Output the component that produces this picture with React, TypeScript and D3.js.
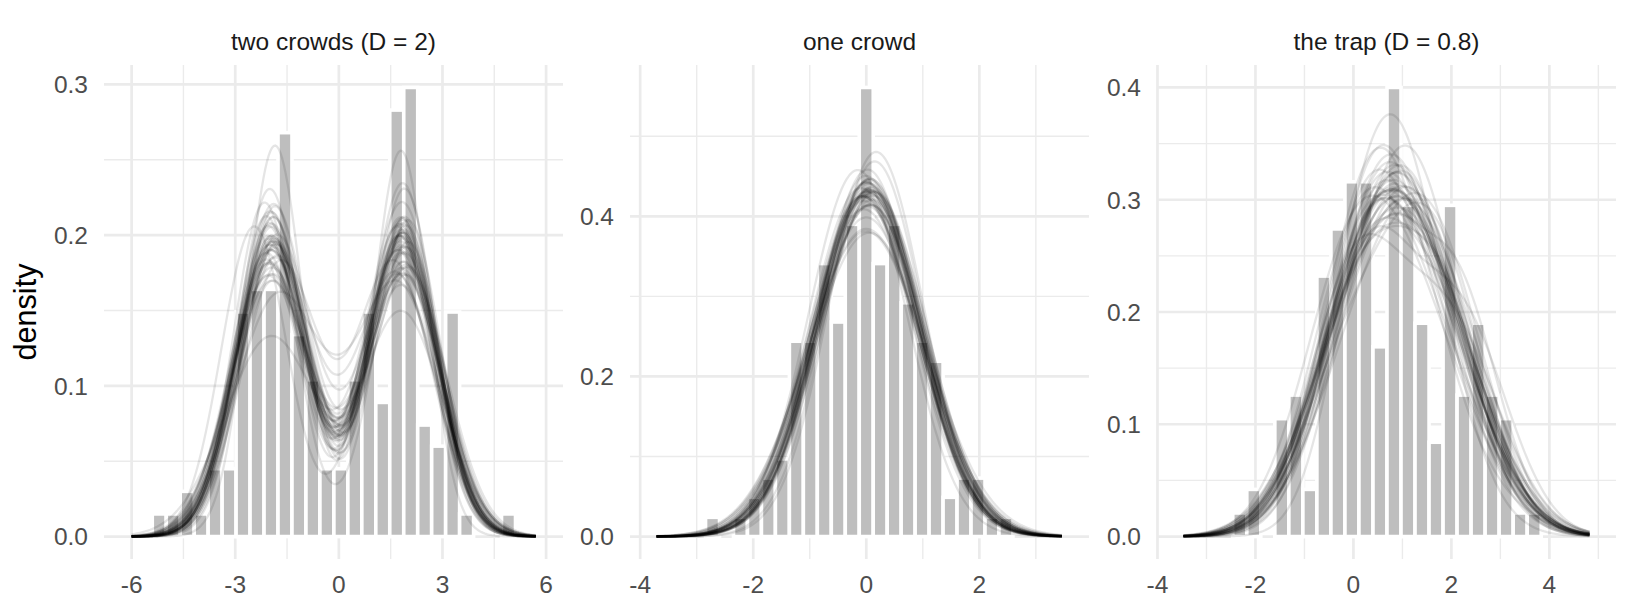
import { useEffect, useRef } from 'react';
import * as d3 from 'd3';

const WIDTH = 1632;
const HEIGHT = 614;

// facet titles
const titles = ['two crowds (D = 2)', 'one crowd', 'the trap (D = 0.8)'];

// histogram: centre of first bin, bin width, density of each bin
const binStart = [-5.2, -2.72, -2.32];
const binWidth = [0.4045, 0.2472, 0.2862];

const barsTwo = [
  0.015, 0.015, 0.030, 0.015, 0.045, 0.045, 0.149, 0.164, 0.164, 0.268, 0.134, 0.104, 0.045,
  0.045, 0.104, 0.149, 0.089, 0.283, 0.298, 0.074, 0.060, 0.149, 0.015, 0, 0, 0.015
];
const barsOne = [
  0.024, 0, 0.024, 0.049, 0.073, 0.097, 0.244, 0.244, 0.341, 0.268, 0.390, 0.561, 0.341,
  0.390, 0.292, 0.244, 0.219, 0.049, 0.073, 0.073, 0.024, 0.024
];
const barsTrap = [
  0.021, 0.042, 0, 0.105, 0.126, 0.042, 0.232, 0.274, 0.316, 0.316, 0.169, 0.400, 0.295,
  0.190, 0.084, 0.295, 0.126, 0.190, 0.126, 0.105, 0.021, 0.021
];

// posterior draws of the two-component mixture: [weight, mu1, sd1, mu2, sd2]
const drawsTwo = [
  [0.50, -1.95, 1.00, 1.85, 1.00], [0.48, -2.00, 1.05, 1.80, 0.98], [0.52, -1.90, 0.98, 1.90, 1.05],
  [0.50, -2.05, 1.10, 1.85, 0.95], [0.47, -1.85, 0.95, 1.75, 1.02], [0.53, -1.95, 1.02, 1.95, 1.08],
  [0.49, -2.10, 0.92, 1.80, 1.00], [0.51, -1.80, 1.05, 1.90, 0.97], [0.50, -2.00, 0.96, 1.70, 1.05],
  [0.46, -1.90, 1.08, 1.85, 0.92], [0.54, -2.00, 1.00, 1.80, 1.10], [0.50, -1.95, 1.12, 1.95, 1.12],
  [0.48, -1.85, 1.00, 1.85, 1.03], [0.52, -2.05, 1.04, 1.75, 0.96], [0.50, -1.90, 0.94, 1.90, 0.94],
  [0.49, -2.00, 1.08, 1.80, 1.06], [0.51, -1.95, 0.99, 2.00, 1.00], [0.47, -2.10, 1.02, 1.85, 1.00],
  [0.53, -1.80, 1.06, 1.70, 1.08], [0.50, -2.00, 1.15, 1.85, 1.15], [0.52, -1.85, 0.80, 1.80, 0.95],
  [0.50, -1.95, 1.05, 1.80, 0.78], [0.45, -1.95, 1.35, 1.85, 1.00], [0.55, -1.90, 1.00, 1.80, 1.20],
  [0.50, -1.70, 1.10, 1.60, 1.10], [0.50, -2.15, 0.90, 2.00, 0.95], [0.49, -2.45, 0.95, 1.80, 1.05],
  [0.51, -1.95, 1.20, 1.90, 1.02], [0.48, -2.00, 0.98, 1.95, 1.15], [0.50, -1.85, 1.03, 1.75, 1.00],
  [0.52, -2.00, 0.90, 1.85, 1.05], [0.48, -1.90, 1.10, 1.90, 0.90], [0.50, -2.05, 0.97, 1.80, 1.12],
  [0.51, -1.95, 1.07, 1.85, 0.99], [0.49, -1.80, 1.00, 1.95, 1.06], [0.50, -2.00, 1.03, 1.70, 0.97],
  [0.53, -1.90, 1.08, 1.90, 1.00], [0.47, -2.05, 0.95, 1.80, 1.08], [0.50, -1.95, 0.93, 1.85, 1.14],
  [0.52, -1.85, 1.12, 1.95, 0.93], [0.50, -1.75, 1.25, 1.70, 1.20], [0.49, -2.00, 1.01, 1.85, 1.01],
  [0.51, -1.90, 1.04, 1.80, 1.04], [0.50, -2.10, 1.06, 1.90, 0.98], [0.48, -1.95, 0.97, 1.75, 1.09],
  [0.52, -2.00, 1.09, 2.00, 1.07], [0.50, -1.85, 0.91, 1.85, 0.96], [0.50, -1.95, 1.00, 1.80, 1.00],
  [0.51, -1.80, 1.10, 1.65, 1.12], [0.49, -2.05, 1.13, 1.90, 1.08]
];
const drawsOne = [
  [0.50, -0.10, 0.92, 0.10, 0.92], [0.50, -0.05, 0.88, 0.15, 0.90], [0.60, 0.00, 0.90, 0.30, 1.00],
  [0.50, -0.20, 0.95, 0.10, 0.90], [0.40, -0.15, 0.85, 0.20, 0.95], [0.50, 0.00, 0.86, 0.05, 0.88],
  [0.50, -0.25, 0.90, 0.25, 0.90], [0.55, 0.05, 0.95, 0.10, 0.98], [0.50, -0.10, 1.00, 0.00, 0.95],
  [0.50, 0.10, 0.84, 0.20, 0.86], [0.45, -0.30, 0.85, 0.20, 0.95], [0.50, -0.05, 0.92, 0.05, 0.96],
  [0.50, 0.15, 0.83, 0.20, 0.83], [0.50, -0.20, 0.86, -0.10, 0.88], [0.50, -0.40, 0.95, 0.40, 0.95],
  [0.60, -0.10, 0.90, 0.30, 0.90], [0.40, -0.20, 0.95, 0.10, 0.88], [0.50, 0.00, 0.94, 0.10, 0.92],
  [0.50, -0.15, 0.89, 0.15, 0.89], [0.50, 0.05, 0.91, 0.15, 0.93], [0.50, -0.10, 0.97, 0.20, 0.93],
  [0.55, -0.05, 0.87, 0.25, 0.95], [0.50, -0.30, 1.00, 0.30, 1.00], [0.50, 0.00, 0.90, 0.00, 0.90],
  [0.45, -0.10, 0.93, 0.10, 0.87], [0.50, -0.05, 0.95, 0.25, 0.90], [0.50, -0.20, 0.92, 0.05, 0.94],
  [0.50, 0.10, 0.88, 0.10, 0.95], [0.60, -0.10, 0.95, 0.20, 0.85], [0.50, -0.15, 0.93, 0.20, 0.97],
  [0.50, 0.00, 0.98, 0.15, 0.94], [0.50, -0.10, 0.86, 0.10, 0.90], [0.50, -0.25, 0.94, 0.15, 0.92],
  [0.50, 0.05, 0.89, 0.05, 0.92], [0.45, -0.05, 0.90, 0.30, 0.92], [0.50, -0.20, 0.98, 0.20, 0.98],
  [0.50, 0.00, 0.93, 0.20, 0.91], [0.55, -0.15, 0.91, 0.10, 0.96], [0.50, 0.00, 1.05, 0.10, 1.05],
  [0.50, -0.10, 0.90, 0.20, 0.86], [0.50, -0.05, 0.96, 0.10, 0.89], [0.50, 0.05, 0.90, 0.25, 0.94],
  [0.45, -0.20, 0.90, 0.00, 0.92], [0.50, 0.00, 0.87, 0.15, 0.91]
];
const drawsTrap = [
  [0.50, 0.20, 1.05, 1.50, 1.10], [0.55, 0.30, 1.00, 1.60, 1.15], [0.50, 0.10, 1.10, 1.40, 1.05],
  [0.45, 0.00, 0.95, 1.30, 1.20], [0.50, 0.40, 1.10, 1.80, 1.00], [0.60, 0.30, 1.05, 1.70, 1.10],
  [0.50, 0.20, 0.98, 1.60, 1.05], [0.50, 0.50, 1.15, 1.20, 1.15], [0.40, 0.10, 1.00, 1.50, 1.10],
  [0.50, 0.60, 1.05, 0.90, 1.05], [0.50, 0.00, 0.90, 1.90, 1.05], [0.55, 0.30, 0.90, 2.20, 0.95],
  [0.50, 0.20, 1.08, 1.50, 1.08], [0.50, 0.30, 1.12, 1.60, 1.02], [0.50, 0.35, 1.00, 1.35, 1.10],
  [0.60, 0.45, 1.00, 1.00, 1.40], [0.50, 0.10, 1.02, 1.70, 1.12], [0.45, 0.20, 1.05, 1.40, 1.00],
  [0.50, 0.25, 1.10, 1.55, 1.12], [0.50, -0.10, 1.00, 1.30, 1.15], [0.50, 0.40, 1.05, 1.80, 1.10],
  [0.55, 0.20, 0.95, 1.50, 1.15], [0.50, 0.30, 1.10, 1.20, 1.10], [0.45, 0.00, 1.00, 1.60, 1.05],
  [0.50, 0.50, 1.00, 1.60, 1.20], [0.40, 0.20, 0.90, 1.40, 1.15], [0.50, 0.15, 1.06, 1.65, 1.06],
  [0.60, 0.25, 1.10, 1.90, 1.00], [0.50, 0.35, 1.08, 1.45, 1.08], [0.50, 0.10, 0.97, 1.55, 1.12],
  [0.45, 0.30, 1.02, 1.50, 1.05], [0.50, 0.20, 1.12, 1.75, 0.95], [0.55, 0.40, 0.95, 1.30, 1.25],
  [0.50, 0.05, 1.04, 1.45, 1.10], [0.50, 0.20, 1.15, 1.60, 1.15], [0.50, 0.30, 1.00, 1.70, 1.00],
  [0.45, 0.00, 1.10, 1.50, 1.00], [0.50, 0.60, 1.20, 1.30, 1.00], [0.65, 0.30, 1.10, 2.00, 0.90],
  [0.50, 0.25, 1.03, 1.50, 1.08], [0.50, 0.35, 0.78, 2.05, 0.88], [0.50, 0.15, 1.00, 1.55, 1.05],
  [0.55, 0.35, 1.04, 1.65, 1.08]
];

// x span the fitted densities are evaluated over
const curveRange = [[-6.0, 5.7], [-3.71, 3.46], [-3.47, 4.82]];

// axis limits and breaks
const xLimits = [[-6.8, 6.49], [-4.18, 3.94], [-4.01, 5.36]];
const xMajor = [[-6, -3, 0, 3, 6], [-4, -2, 0, 2], [-4, -2, 0, 2, 4]];
const xMinor = [[-4.5, -1.5, 1.5, 4.5], [-3, -1, 1, 3], [-3, -1, 1, 3, 5]];
const yMajor = [[0, 0.1, 0.2, 0.3], [0, 0.2, 0.4], [0, 0.1, 0.2, 0.3, 0.4]];
const yMinor = [[0.05, 0.15, 0.25], [0.1, 0.3, 0.5], [0.05, 0.15, 0.25, 0.35]];

const bars = [barsTwo, barsOne, barsTrap];
const draws = [drawsTwo, drawsOne, drawsTrap];

const FONT = '"Liberation Sans", Arial, Helvetica, sans-serif';
const GRID = '#EBEBEB';

const dnorm = (x: number, m: number, s: number) =>
  Math.exp(-0.5 * ((x - m) / s) ** 2) / (s * Math.sqrt(2 * Math.PI));

export default function App() {
  const svgRef = useRef<SVGSVGElement>(null);

  useEffect(() => {
    if (!svgRef.current) return;
    const svg = d3.select(svgRef.current);
    svg.selectAll('*').remove();

    const panelLeft = [104, 630, 1157];
    const panelW = 459;
    const top = 65;
    const bottom = 559;

    svg.append('rect').attr('width', WIDTH).attr('height', HEIGHT).attr('fill', 'white');

    // y axis title
    svg.append('text')
      .attr('transform', `translate(36, ${(top + bottom) / 2}) rotate(-90)`)
      .attr('text-anchor', 'middle')
      .style('font-family', FONT)
      .style('font-size', '30.6px')
      .style('fill', '#000')
      .text('density');

    titles.forEach((title, p) => {
      const left = panelLeft[p];
      const x = d3.scaleLinear().domain(xLimits[p]).range([left, left + panelW]);
      const ymax = d3.max(bars[p]) as number;
      const y = d3.scaleLinear().domain([-0.05 * ymax, 1.05 * ymax]).range([bottom, top]);

      const g = svg.append('g');

      // grid
      g.append('g').selectAll('line').data(yMinor[p]).join('line')
        .attr('x1', left).attr('x2', left + panelW)
        .attr('y1', d => y(d)).attr('y2', d => y(d))
        .attr('stroke', GRID).attr('stroke-width', 1.4);
      g.append('g').selectAll('line').data(xMinor[p]).join('line')
        .attr('x1', d => x(d)).attr('x2', d => x(d))
        .attr('y1', top).attr('y2', bottom)
        .attr('stroke', GRID).attr('stroke-width', 1.4);
      g.append('g').selectAll('line').data(yMajor[p]).join('line')
        .attr('x1', left).attr('x2', left + panelW)
        .attr('y1', d => y(d)).attr('y2', d => y(d))
        .attr('stroke', GRID).attr('stroke-width', 2.7);
      g.append('g').selectAll('line').data(xMajor[p]).join('line')
        .attr('x1', d => x(d)).attr('x2', d => x(d))
        .attr('y1', top).attr('y2', bottom)
        .attr('stroke', GRID).attr('stroke-width', 2.7);

      // histogram
      const bw = binWidth[p];
      const binData = bars[p]
        .map((v, i) => ({ mid: binStart[p] + i * bw, v }))
        .filter(d => d.v > 0);
      g.append('g').selectAll('rect').data(binData).join('rect')
        .attr('x', d => x(d.mid - bw / 2))
        .attr('width', d => x(d.mid + bw / 2) - x(d.mid - bw / 2))
        .attr('y', d => y(d.v))
        .attr('height', d => y(0) - y(d.v))
        .attr('fill', '#BEBEBE')
        .attr('stroke', 'white')
        .attr('stroke-width', 3.6);

      // fitted densities
      const [lo, hi] = curveRange[p];
      const n = 240;
      const grid = d3.range(n).map(i => lo + (i * (hi - lo)) / (n - 1));
      const line = d3.line<[number, number]>().x(d => x(d[0])).y(d => y(d[1]));
      g.append('g').selectAll('path').data(draws[p]).join('path')
        .attr('d', ([w, m1, s1, m2, s2]) =>
          line(grid.map(t => [t, w * dnorm(t, m1, s1) + (1 - w) * dnorm(t, m2, s2)] as [number, number])) as string)
        .attr('fill', 'none')
        .attr('stroke', '#000')
        .attr('stroke-opacity', 0.1)
        .attr('stroke-width', 2.3);

      // tick labels
      g.append('g').selectAll('text').data(yMajor[p]).join('text')
        .attr('x', left - 16)
        .attr('y', d => y(d) + 8.8)
        .attr('text-anchor', 'end')
        .style('font-family', FONT)
        .style('font-size', '24.5px')
        .style('fill', '#4D4D4D')
        .text(d => d.toFixed(1));
      g.append('g').selectAll('text').data(xMajor[p]).join('text')
        .attr('x', d => x(d))
        .attr('y', 593)
        .attr('text-anchor', 'middle')
        .style('font-family', FONT)
        .style('font-size', '24.5px')
        .style('fill', '#4D4D4D')
        .text(d => String(d));

      // strip title
      g.append('text')
        .attr('x', left + panelW / 2)
        .attr('y', 50)
        .attr('text-anchor', 'middle')
        .style('font-family', FONT)
        .style('font-size', '24.5px')
        .style('fill', '#1A1A1A')
        .text(title);
    });
  }, []);

  return (
    <div style={{ position: 'absolute', left: 0, top: 0 }}>
      <svg ref={svgRef} width={WIDTH} height={HEIGHT} style={{ display: 'block' }} />
    </div>
  );
}
